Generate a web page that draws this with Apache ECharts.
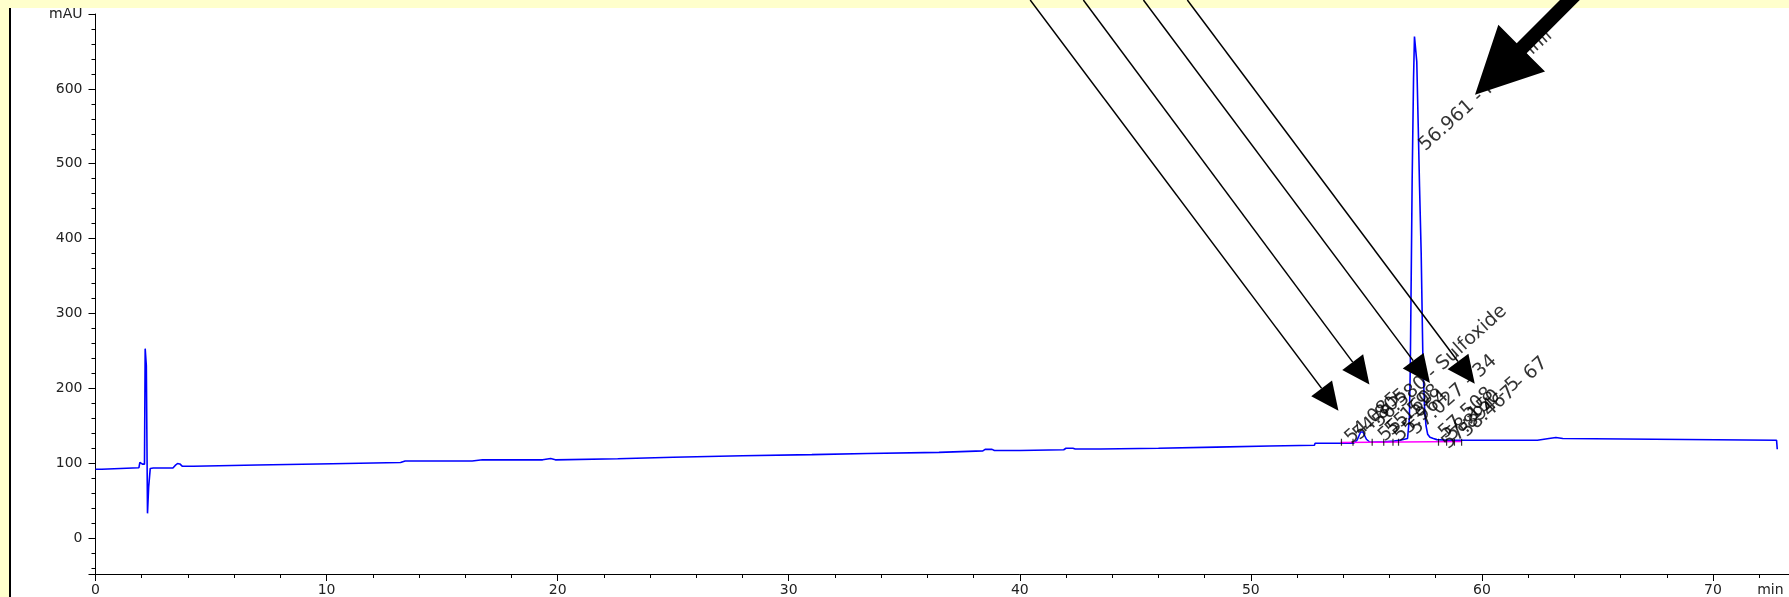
<!DOCTYPE html>
<html style="height: 100%">
<head>
<meta charset="utf-8">
<style>
  html, body { margin: 0; height: 100%; background: #ffffcc; overflow: hidden; }
  .panel { position: absolute; left: 9px; top: 8px; right: 0; bottom: 0; background: #fff; border-left: 2px solid #000; }
  /* wider than the window: the time axis runs on past the right edge */
  #container { position: absolute; left: 0; top: 0; width: 1956px; height: 597px; }
</style>
</head>
<body>
<div class="panel"></div>
<div id="container"></div>
<script src="https://cdn.jsdelivr.net/npm/echarts@6/dist/echarts.min.js"></script>
<script>
// retention time (min) and detector signal (mAU)
var times = [
  0.00, 0.27, 0.30, 1.88, 1.92, 2.00, 2.03, 2.12, 2.15, 2.19, 2.20, 2.24, 2.25, 2.29, 2.30, 2.35, 2.37, 2.50,
  3.35, 3.45, 3.55, 3.65, 3.75, 4.24, 4.30, 7.00, 7.03, 10.25, 10.28, 13.20, 13.25, 13.40, 13.43, 13.50,
  16.30, 16.33, 16.75, 16.80, 16.88, 19.35, 19.38, 19.70, 19.73, 19.90, 19.93, 22.60, 22.63, 25.00, 25.03,
  28.00, 28.03, 31.00, 31.03, 33.40, 33.43, 36.50, 36.53, 38.40, 38.50, 38.80, 38.90, 40.00, 40.03, 41.90,
  42.00, 42.30, 42.40, 43.50, 43.53, 46.00, 46.03, 48.50, 48.53, 50.80, 50.83, 52.75, 52.78,
  54.45, 54.60, 54.75, 54.85, 55.00, 55.15, 55.80, 56.20, 56.50, 56.78, 56.86, 56.90, 56.94, 56.98, 57.04,
  57.08, 57.14, 57.18, 57.24, 57.30, 57.37, 57.45, 57.52, 57.58, 57.65, 57.75, 57.90, 58.05, 58.50,
  62.40, 62.45, 62.90, 62.95, 63.20, 63.25, 63.50, 63.55, 72.75, 72.78, 72.80
];
var signal = [
  92, 92, 94, 94, 101, 101, 98.7, 98.7, 253, 253, 230, 230, 33, 33, 68, 68, 93, 93.5,
  93.5, 97, 99.6, 99, 96, 96, 97.5, 97.5, 99.3, 99.3, 101, 101, 103, 103, 101.5, 103,
  103, 104.5, 104.5, 103.3, 104.5, 104.5, 106.2, 106.2, 104.5, 104.5, 106, 106, 108, 108, 110,
  110, 111.5, 111.5, 113, 113, 114.5, 114.5, 116.5, 116.5, 118.5, 118.5, 117, 117, 118, 118,
  120, 120, 119, 119, 120, 120, 121.5, 121.5, 123, 123, 124, 124, 126.7,
  126.7, 131, 141.7, 141.7, 132, 128, 128.5, 129.5, 131, 133, 160, 229, 352, 479, 614,
  670, 670, 636, 554, 469, 381, 229, 172, 150, 138.7, 134.7, 133, 131.5, 130.7,
  130.7, 133, 133, 134.3, 134.3, 133, 133, 130.7, 130.7, 118.7, 118.7
];

// integration baseline
var baseTimes = [53.87, 59.12];
var baseValues = [127.5, 129];

// peak start / end marks
var delimTimes = [53.92, 54.42, 55.25, 55.75, 56.15, 56.39, 58.12, 58.47, 58.81, 59.12];
var delimValue = 128;

// peak labels: where each label starts
var labelTimes = [54.50, 54.85, 55.95, 56.25, 56.60, 55.70, 57.30, 58.55, 58.70, 58.85, 59.50, 57.70];
var labelValues = [120, 125, 123, 131, 123, 142, 132, 127, 113, 124, 129, 511];
var labelTexts = ['54.085', '54.805', '55.160', '55.598', '55.964', '56.580 - Sulfoxide', '57.027 - 34',
  '57.508', '57.894 - 5', '58.150', '58.467 - 67', '56.961 - Modafinil'];

// annotation arrows (axis coordinates)
var arrowFrom = [[40.45, 718.7], [42.75, 718.7], [45.35, 718.7], [47.25, 718.7]];
var arrowTo = [[53.79, 170], [55.13, 205], [57.75, 207], [59.69, 206]];
var bigArrowTip = [59.70, 592];

var dom = document.getElementById('container');
var myChart = echarts.init(dom);
var font = 'DejaVu Sans, Verdana, sans-serif';

var option = {
  animation: false,
  grid: { left: 95.5, top: 14, right: 0.5, bottom: 22 },
  xAxis: {
    type: 'value', min: 0, max: 80, interval: 10,
    axisLine: { onZero: false, lineStyle: { color: '#000', width: 1 } },
    axisTick: { length: 7, lineStyle: { color: '#000' } },
    minorTick: { show: true, splitNumber: 5, length: 4, lineStyle: { color: '#000' } },
    splitLine: { show: false },
    axisLabel: { margin: 9, fontSize: 14, fontFamily: font, color: '#222' }
  },
  yAxis: {
    type: 'value', min: -48, max: 700, splitNumber: 7,
    axisLine: { show: true, onZero: false, lineStyle: { color: '#000', width: 1 } },
    axisTick: { show: true, length: 7, lineStyle: { color: '#000' } },
    minorTick: { show: true, splitNumber: 5, length: 4, lineStyle: { color: '#000' } },
    splitLine: { show: false },
    axisLabel: {
      margin: 13, fontSize: 14, fontFamily: font, color: '#222',
      formatter: function (v) { return v === 700 ? 'mAU' : (v < 0 ? '' : v); }
    }
  },
  series: [
    {
      type: 'line', data: times.map(function (t, i) { return [t, signal[i]]; }),
      showSymbol: false, z: 3,
      lineStyle: { color: '#0000ff', width: 1.6 }
    },
    {
      type: 'line', data: baseTimes.map(function (t, i) { return [t, baseValues[i]]; }),
      showSymbol: false, z: 4,
      lineStyle: { color: '#ff00ff', width: 1.5 }
    },
    {
      type: 'scatter', data: delimTimes.map(function (t) { return [t, delimValue]; }),
      symbol: 'rect', symbolSize: [1.2, 7], z: 5,
      itemStyle: { color: '#000' }
    },
    {
      type: 'scatter', z: 6, symbolSize: 1,
      itemStyle: { color: 'rgba(0,0,0,0)' },
      data: labelTimes.map(function (t, i) { return [t, labelValues[i], labelTexts[i]]; }),
      label: {
        show: true, position: [0, 0], rotate: 42, align: 'left', verticalAlign: 'bottom',
        fontSize: 19, fontFamily: font, color: '#000',
        formatter: function (p) { return p.data[2]; }
      }
    }
  ]
};
myChart.setOption(option);

function px(p) { return myChart.convertToPixel({ gridIndex: 0 }, p); }
function head(tip, from, len, half) {
  var dx = tip[0] - from[0], dy = tip[1] - from[1];
  var d = Math.hypot(dx, dy), ux = dx / d, uy = dy / d;
  var bx = tip[0] - ux * len, by = tip[1] - uy * len;
  return { base: [bx, by], pts: [[tip[0], tip[1]], [bx - uy * half, by + ux * half], [bx + uy * half, by - ux * half]] };
}

var graphics = [];
arrowFrom.forEach(function (f, i) {
  var a = px(f), b = px(arrowTo[i]);
  var h = head(b, a, 28, 13);
  graphics.push({ type: 'line', z: 100, shape: { x1: a[0], y1: a[1], x2: h.base[0], y2: h.base[1] }, style: { stroke: '#000', lineWidth: 1.5 } });
  graphics.push({ type: 'polygon', z: 100, shape: { points: h.pts }, style: { fill: '#000' } });
});

// thick arrow coming in from the top right
var tip = px(bigArrowTip);
var tail = [tip[0] + 200, tip[1] - 200];
var bh = head(tip, tail, 66, 33);
var ux = (tip[0] - tail[0]) / Math.hypot(200, 200), uy = (tip[1] - tail[1]) / Math.hypot(200, 200);
var w = 7;
graphics.push({
  type: 'polygon', z: 101,
  shape: {
    points: [
      bh.pts[0], bh.pts[1],
      [bh.base[0] - uy * w, bh.base[1] + ux * w],
      [tail[0] - uy * w, tail[1] + ux * w],
      [tail[0] + uy * w, tail[1] - ux * w],
      [bh.base[0] + uy * w, bh.base[1] - ux * w],
      bh.pts[2]
    ]
  },
  style: { fill: '#000' }
});

// axis unit on the time axis
var unit = px([72, -48]);
graphics.push({
  type: 'text', z: 100, x: unit[0] - 2, y: unit[1] + 16,
  style: { text: 'min', font: '14px ' + font, fill: '#222', verticalAlign: 'middle', align: 'left' }
});

myChart.setOption({ graphic: graphics });
</script>
</body>
</html>
